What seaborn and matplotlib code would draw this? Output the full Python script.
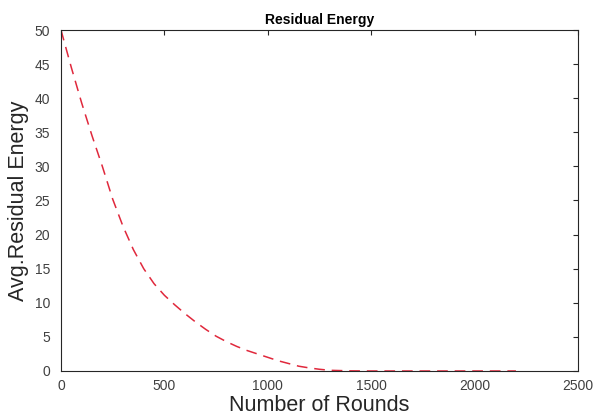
import matplotlib
matplotlib.use("Agg")
import matplotlib.pyplot as plt
import seaborn as sns
import pandas as pd

rounds = [0, 50, 100, 150, 200, 250, 300, 350, 400, 450, 500, 550, 600, 650, 700,
          750, 800, 850, 900, 950, 1000, 1050, 1100, 1150, 1200, 1250, 1300, 1400,
          1500, 1600, 1700, 1800, 1900, 2000, 2100, 2200]
energy = [50.0, 44.5, 39.3, 34.5, 30.0, 25.2, 21.2, 17.8, 15.0, 12.8, 11.1, 9.7, 8.4, 7.2, 6.1,
          5.1, 4.3, 3.6, 3.0, 2.5, 2.0, 1.5, 1.1, 0.7, 0.45, 0.25, 0.1, 0.02,
          0.0, 0.0, 0.0, 0.0, 0.0, 0.0, 0.0, 0.0]
x_ticks = [0, 500, 1000, 1500, 2000, 2500]
y_ticks = [0, 5, 10, 15, 20, 25, 30, 35, 40, 45, 50]

df = pd.DataFrame({"Rounds": rounds, "Energy": energy})

sns.set_style("white")
plt.rcParams["font.family"] = ["Liberation Sans", "DejaVu Sans"]

fig = plt.figure(figsize=(5.95, 4.19), dpi=100)
ax = fig.add_axes([0.1025, 0.1146, 0.8689, 0.8138])

sns.lineplot(data=df, x="Rounds", y="Energy", ax=ax, color="#e0283c",
             linestyle=(0, (7, 4.5)), linewidth=1.1)

ax.set_xlim(0, 2500)
ax.set_ylim(0, 50)
ax.set_xticks(x_ticks)
ax.set_yticks(y_ticks)
ax.tick_params(direction="in", top=True, right=True, length=3.5, width=0.8,
               labelsize=10, labelcolor="#404040", color="#262626")
ax.tick_params(axis="x", pad=6)
ax.tick_params(axis="y", pad=8)
for s in ax.spines.values():
    s.set_visible(True)
    s.set_color("#262626")
    s.set_linewidth(0.8)

ax.set_xlabel("Number of Rounds", fontsize=15.5, color="#262626", labelpad=1)
ax.set_ylabel("Avg.Residual Energy", fontsize=15.5, color="#262626", labelpad=4)
ax.set_title("Residual Energy", fontsize=10, fontweight="bold", color="black", pad=4)

fig.savefig("out.png", dpi=100)
